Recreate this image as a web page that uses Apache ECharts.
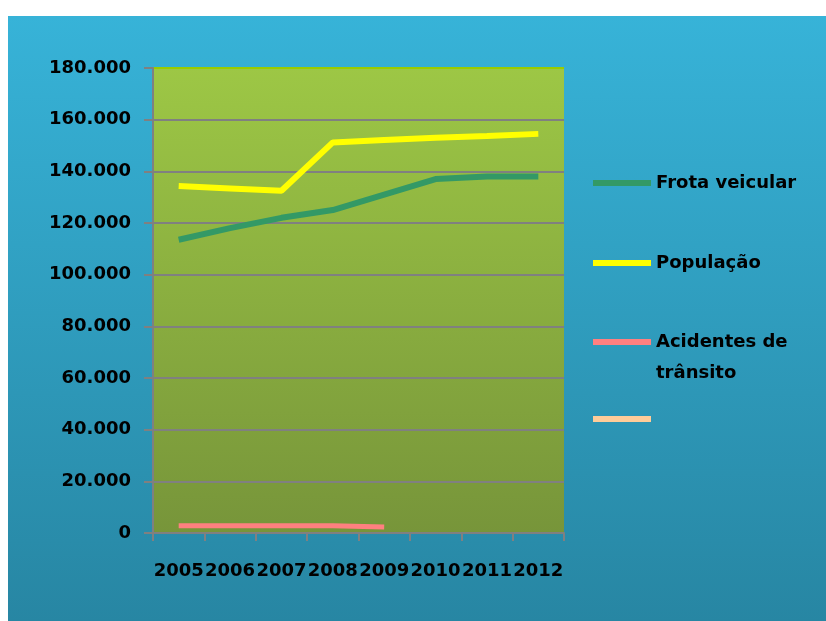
<!DOCTYPE html>
<html>
<head>
<meta charset="utf-8">
<script src="https://cdn.jsdelivr.net/npm/echarts@6/dist/echarts.min.js"></script>
<style>
html,body{margin:0;padding:0;background:#fff;}
#chart{width:826px;height:621px;}
</style>
</head>
<body>
<div id="chart"></div>
<script>
const years = ['2005','2006','2007','2008','2009','2010','2011','2012'];
const frota = [113500, 118000, 122000, 125000, 131000, 137000, 138000, 138000];
const populacao = [134300, 133400, 132500, 151200, 152100, 153000, 153700, 154500];
const acidentes = [2800, 2800, 2800, 2800, 2300, null, null, null];
const serie4 = [null, null, null, null, null, null, null, null];
const yTicks = [0, 20000, 40000, 60000, 80000, 100000, 120000, 140000, 160000, 180000];

const FONT = 'DejaVu Sans';
const chart = echarts.init(document.getElementById('chart'));

function fmt(v){
  return String(v).replace(/\B(?=(\d{3})+(?!\d))/g, '.');
}
function legendAt(name, top, formatter){
  return {
    data:[name], orient:'vertical', left:593, top:top, padding:0,
    icon:'rect', itemWidth:58, itemHeight:6,
    formatter: formatter || '{name}',
    textStyle:{fontFamily:FONT, fontWeight:'bold', fontSize:18, color:'#000'}
  };
}
const gridColors = yTicks.map((v,i)=> i===yTicks.length-1 ? '#99cc00' : '#808080');

chart.setOption({
  backgroundColor:'#ffffff',
  animation:false,
  graphic:[
    {type:'rect', z:-100, silent:true, shape:{x:8,y:16,width:818,height:605},
     style:{fill:new echarts.graphic.LinearGradient(0,0,0,1,[{offset:0,color:'#37b3d8'},{offset:1,color:'#2786a3'}])}},
    {type:'text', left:656, top:364, silent:true,
     style:{text:'trânsito', fontFamily:FONT, fontWeight:'bold', fontSize:18, fill:'#000'}}
  ],
  grid:{left:153, right:262, top:68, bottom:88, show:true, borderWidth:0,
    backgroundColor:new echarts.graphic.LinearGradient(0,0,0,1,[{offset:0,color:'#9dc745'},{offset:1,color:'#77953a'}])},
  legend:[
    legendAt('Frota veicular', 174),
    legendAt('População', 254),
    legendAt('Acidentes de trânsito', 333, 'Acidentes de'),
    legendAt(' ', 410)
  ],
  xAxis:{
    type:'category', data:years, boundaryGap:true,
    axisLine:{lineStyle:{color:'#808080', width:2}},
    axisTick:{show:true, length:8, lineStyle:{color:'#808080', width:2}},
    axisLabel:{interval:0, margin:29, fontFamily:FONT, fontWeight:'bold', fontSize:18, color:'#000'}
  },
  yAxis:{
    type:'value', min:0, max:180000, interval:20000,
    axisLine:{show:true, lineStyle:{color:'#808080', width:2}},
    axisTick:{show:true, length:9, lineStyle:{color:'#808080', width:2}},
    splitLine:{show:true, lineStyle:{color:gridColors, width:2}},
    axisLabel:{margin:22, formatter:fmt, fontFamily:FONT, fontWeight:'bold', fontSize:18, color:'#000'}
  },
  series:[
    {name:'Frota veicular', type:'line', data:frota, showSymbol:false, symbol:'none', color:'#339966', lineStyle:{width:6, color:'#339966'}},
    {name:'População', type:'line', data:populacao, showSymbol:false, symbol:'none', color:'#ffff00', lineStyle:{width:6, color:'#ffff00'}},
    {name:'Acidentes de trânsito', type:'line', data:acidentes, showSymbol:false, symbol:'none', color:'#ff8080', lineStyle:{width:5, color:'#ff8080'}},
    {name:' ', type:'line', data:serie4, showSymbol:false, symbol:'none', color:'#ffcc99', lineStyle:{width:5, color:'#ffcc99'}}
  ]
});
</script>
</body>
</html>
